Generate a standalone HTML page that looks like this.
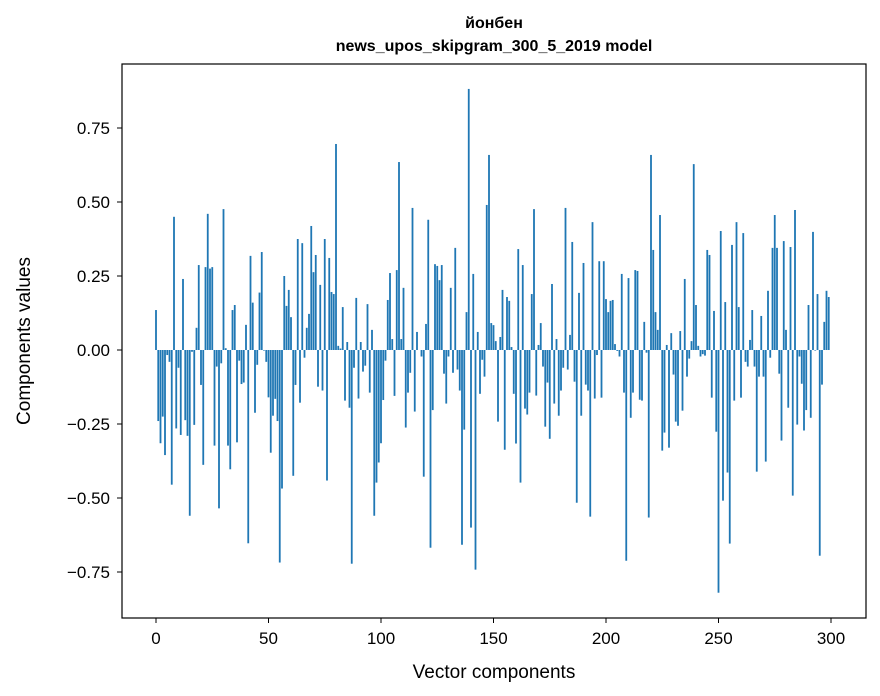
<!DOCTYPE html>
<html><head><meta charset="utf-8"><style>
html,body{margin:0;padding:0;background:#fff;}
svg{display:block;font-family:"Liberation Sans","DejaVu Sans",sans-serif;}
</style></head><body>
<svg id="chart" width="880" height="696" viewBox="0 0 880 696" xmlns="http://www.w3.org/2000/svg">
<rect width="880" height="696" fill="#fff"/>
<text x="494" y="28" text-anchor="middle" font-size="16" font-weight="bold">йонбен</text>
<text x="494" y="51" text-anchor="middle" font-size="16" font-weight="bold">news_upos_skipgram_300_5_2019 model</text>
<g id="bars"></g>
<rect x="122" y="64" width="744" height="554" fill="none" stroke="#000" stroke-width="1.2"/>
<g id="xticks"></g>
<g id="yticks"></g>
<text x="494" y="678" text-anchor="middle" font-size="19">Vector components</text>
<text transform="translate(30,341) rotate(-90)" text-anchor="middle" font-size="19">Components values</text>
</svg>
<script>
const values = [
0.135,-0.24,-0.315,-0.225,-0.355,-0.017,-0.04,-0.455,0.45,-0.265,
-0.06,-0.287,0.24,-0.237,-0.29,-0.56,-0.006,-0.253,0.075,0.287,
-0.118,-0.388,0.28,0.46,0.275,0.28,-0.323,-0.056,-0.535,-0.045,
0.476,0.006,-0.323,-0.403,0.135,0.152,-0.312,-0.036,-0.115,-0.11,
0.085,-0.653,0.318,0.16,-0.212,-0.05,0.194,0.331,-0.002,-0.04,
-0.16,-0.347,-0.222,-0.165,-0.24,-0.718,-0.468,0.25,0.149,0.203,
0.111,-0.425,-0.118,0.375,-0.178,0.361,-0.026,0.075,0.122,0.419,
0.263,0.321,-0.124,0.22,-0.137,0.375,-0.441,0.311,0.196,0.189,
0.696,0.014,0.005,0.145,-0.171,0.027,-0.195,-0.722,-0.06,0.176,
-0.164,0.027,-0.073,-0.053,0.155,-0.144,0.068,-0.56,-0.448,-0.38,
-0.315,-0.169,-0.036,0.169,0.26,0.037,-0.155,0.27,0.635,0.037,
0.21,-0.262,-0.144,-0.077,0.48,-0.208,0.061,0.0,-0.022,-0.428,
0.088,0.44,-0.668,-0.203,0.29,0.284,0.236,0.287,-0.08,-0.181,
-0.022,0.21,-0.077,0.345,-0.066,-0.137,-0.658,-0.269,0.128,0.882,
-0.6,0.257,-0.742,0.061,-0.148,-0.033,-0.09,0.49,0.659,0.091,
0.084,0.03,-0.242,0.044,0.203,-0.337,0.179,0.166,0.01,-0.148,
-0.316,0.341,-0.448,0.287,-0.198,-0.218,-0.144,0.189,0.476,-0.154,
0.017,0.091,-0.056,-0.259,-0.11,-0.3,0.223,-0.181,0.037,-0.222,
-0.137,-0.06,0.48,-0.066,0.051,0.365,-0.107,-0.516,0.193,-0.222,
0.294,-0.117,-0.137,-0.563,0.432,-0.164,-0.017,0.3,-0.161,0.3,
0.172,0.128,0.166,0.169,0.02,-0.003,-0.022,0.257,-0.144,-0.712,
0.243,-0.229,-0.144,0.27,0.267,-0.168,-0.171,0.095,-0.009,-0.566,
0.659,0.338,0.128,0.068,0.456,-0.34,-0.279,0.017,-0.33,0.057,
-0.083,-0.242,-0.256,0.064,-0.205,0.24,-0.09,-0.029,0.03,0.628,
0.152,0.014,-0.022,-0.014,-0.019,0.338,0.321,-0.161,0.132,-0.276,
-0.82,0.402,-0.509,0.162,-0.414,-0.654,0.355,-0.171,0.432,0.145,
-0.161,0.395,-0.04,-0.056,0.034,0.135,-0.056,-0.411,-0.09,0.115,
-0.09,-0.377,0.2,-0.026,0.345,0.456,0.345,-0.08,-0.306,0.368,
0.068,-0.195,0.348,-0.492,0.473,-0.252,-0.022,-0.114,-0.272,-0.203,
0.152,-0.229,0.399,-0.002,0.189,-0.695,-0.117,0.095,0.2,0.179
];
const xTickValues = [0,50,100,150,200,250,300];
const yTickValues = [-0.75,-0.5,-0.25,0,0.25,0.5,0.75];
const yTickLabels = ["\u22120.75","\u22120.50","\u22120.25","0.00","0.25","0.50","0.75"];

const NS = "http://www.w3.org/2000/svg";
function xs(v){ return 156 + v * 2.25; }
function ys(v){ return 350 - v * 296; }

const barsG = document.getElementById('bars');
values.forEach(function(v, i){
  const r = document.createElementNS(NS, 'rect');
  
  
  const x0 = xs(i - 0.4), x1 = xs(i + 0.4);
  const y0 = ys(Math.max(v, 0)), y1 = ys(Math.min(v, 0));
  r.setAttribute('x', x0);
  r.setAttribute('width', x1 - x0);
  r.setAttribute('y', y0);
  r.setAttribute('height', Math.max(y1 - y0, 0.01));
  r.setAttribute('fill', '#1f77b4');
  barsG.appendChild(r);
});

const xg = document.getElementById('xticks');
xTickValues.forEach(function(t){
  const l = document.createElementNS(NS, 'line');
  
  
  l.setAttribute('x1', xs(t)); l.setAttribute('x2', xs(t));
  l.setAttribute('y1', 618); l.setAttribute('y2', 623);
  l.setAttribute('stroke', '#000');
  xg.appendChild(l);
  const tx = document.createElementNS(NS, 'text');
  
  
  tx.setAttribute('x', xs(t)); tx.setAttribute('y', 644);
  tx.setAttribute('text-anchor', 'middle');
  tx.setAttribute('font-size', '17');
  tx.textContent = String(t);
  xg.appendChild(tx);
});

const yg = document.getElementById('yticks');
yTickValues.forEach(function(t, k){
  const l = document.createElementNS(NS, 'line');
  
  
  l.setAttribute('x1', 117); l.setAttribute('x2', 122);
  l.setAttribute('y1', ys(t)); l.setAttribute('y2', ys(t));
  l.setAttribute('stroke', '#000');
  yg.appendChild(l);
  const tx = document.createElementNS(NS, 'text');
  
  
  tx.setAttribute('x', 110); tx.setAttribute('y', ys(t) + 6);
  tx.setAttribute('text-anchor', 'end');
  tx.setAttribute('font-size', '17');
  tx.textContent = yTickLabels[k];
  yg.appendChild(tx);
});
</script>
</body></html>
